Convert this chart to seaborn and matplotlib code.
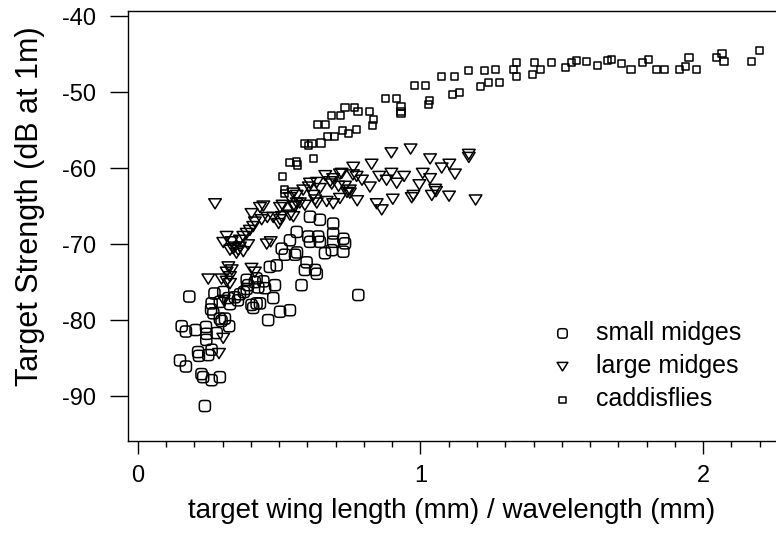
import numpy as np
import matplotlib
matplotlib.use("Agg")
import matplotlib.pyplot as plt
from matplotlib.path import Path
from matplotlib.ticker import MultipleLocator
import seaborn as sns

# small midges (circles)
small_x = [0.237, 0.149, 0.170, 0.225, 0.231, 0.261, 0.290, 0.213, 0.216, 0.249,
           0.261, 0.155, 0.170, 0.204, 0.241, 0.243, 0.242, 0.279, 0.323, 0.290,
           0.308, 0.296, 0.182, 0.271, 0.261, 0.259, 0.267, 0.290, 0.302, 0.320,
           0.343, 0.361, 0.385, 0.390, 0.414, 0.426, 0.444, 0.450, 0.402, 0.408,
           0.420, 0.432, 0.461, 0.485, 0.479, 0.503, 0.538, 0.467, 0.491, 0.385,
           0.420, 0.509, 0.520, 0.556, 0.563, 0.597, 0.591, 0.627, 0.633, 0.579,
           0.662, 0.686, 0.727, 0.609, 0.644, 0.691, 0.733, 0.780, 0.609, 0.644,
           0.691, 0.691, 0.562, 0.603, 0.638, 0.538, 0.727, 0.375, 0.354, 0.326]
small_y = [-91.3, -85.3, -86.1, -87.1, -87.5, -87.9, -87.5, -84.2, -84.7, -84.6,
           -83.9, -80.8, -81.5, -81.3, -80.9, -81.8, -82.6, -81.7, -80.8, -79.8,
           -79.8, -80.1, -76.9, -76.5, -77.8, -78.6, -79.1, -77.6, -76.3, -77.1,
           -77.0, -76.6, -75.9, -75.4, -75.0, -75.7, -74.9, -75.8, -78.0, -78.4,
           -77.8, -77.8, -80.0, -75.4, -77.1, -78.9, -78.7, -73.0, -72.8, -74.7,
           -74.5, -70.6, -71.4, -71.4, -71.1, -72.4, -73.4, -73.4, -73.9, -75.4,
           -71.2, -70.8, -71.0, -69.7, -69.7, -69.7, -69.9, -76.7, -66.4, -66.8,
           -67.3, -68.6, -68.4, -69.0, -69.0, -69.5, -69.3, -76.3, -77.4, -77.9]

# large midges (triangles)
large_x = [0.273, 0.249, 0.296, 0.326, 0.314, 0.302, 0.287, 0.320, 0.332, 0.314,
           0.402, 0.414, 0.302, 0.314, 0.332, 0.343, 0.355, 0.361, 0.373, 0.385,
           0.396, 0.408, 0.337, 0.349, 0.326, 0.361, 0.373, 0.390, 0.456, 0.470,
           0.402, 0.414, 0.438, 0.458, 0.479, 0.432, 0.444, 0.503, 0.509, 0.498,
           0.538, 0.556, 0.562, 0.591, 0.633, 0.668, 0.691, 0.512, 0.550, 0.573,
           0.538, 0.550, 0.562, 0.585, 0.621, 0.627, 0.609, 0.633, 0.644, 0.663,
           0.680, 0.686, 0.691, 0.710, 0.715, 0.715, 0.750, 0.750, 0.762, 0.774,
           0.776, 0.793, 0.821, 0.827, 0.845, 0.854, 0.863, 0.880, 0.897, 0.897,
           0.902, 0.916, 0.942, 0.965, 0.975, 0.969, 0.996, 1.008, 1.034, 1.034,
           1.040, 1.052, 1.055, 1.075, 1.102, 1.101, 1.122, 1.171, 1.171, 1.195,
           0.721, 0.733, 0.740, 0.503, 0.550, 0.304, 0.326, 0.761, 0.605]
large_y = [-64.7, -74.6, -74.6, -74.3, -74.9, -82.4, -84.4, -73.0, -73.4, -73.7,
           -73.2, -73.7, -69.8, -69.0, -69.7, -70.4, -70.8, -69.5, -69.0, -68.6,
           -68.2, -67.7, -70.6, -71.2, -70.8, -70.4, -71.0, -70.1, -70.0, -69.7,
           -66.0, -67.1, -66.8, -66.5, -66.5, -65.2, -65.0, -65.2, -66.4, -67.3,
           -66.2, -65.1, -64.6, -64.9, -64.6, -64.4, -64.7, -64.9, -65.0, -64.6,
           -63.9, -63.3, -63.6, -62.9, -63.6, -64.2, -62.0, -61.9, -62.7, -61.0,
           -61.8, -62.1, -61.4, -62.4, -60.8, -64.0, -62.9, -63.3, -59.9, -61.1,
           -64.3, -61.6, -62.5, -59.5, -64.7, -61.1, -65.5, -61.6, -58.0, -60.7,
           -64.1, -62.0, -61.1, -57.5, -63.6, -63.9, -62.2, -60.7, -58.8, -61.4,
           -63.6, -62.8, -63.1, -60.0, -59.5, -63.7, -60.8, -58.2, -58.6, -64.2,
           -60.7, -62.4, -63.2, -66.8, -66.4, -77.4, -75.2, -60.9, -62.5]

# caddisflies (squares)
caddis_x = [0.512, 0.519, 0.520, 0.535, 0.562, 0.564, 0.591, 0.605, 0.616, 0.621,
            0.637, 0.648, 0.665, 0.670, 0.685, 0.697, 0.718, 0.724, 0.733, 0.745,
            0.765, 0.774, 0.779, 0.821, 0.835, 0.830, 0.877, 0.916, 0.931, 0.931,
            0.931, 0.979, 1.018, 1.032, 1.027, 1.074, 1.121, 1.114, 1.137, 1.171,
            1.211, 1.225, 1.240, 1.265, 1.279, 1.328, 1.341, 1.341, 1.397, 1.404,
            1.425, 1.464, 1.512, 1.535, 1.553, 1.586, 1.627, 1.661, 1.675, 1.711,
            1.745, 1.786, 1.808, 1.834, 1.862, 1.916, 1.939, 1.950, 1.978, 2.046,
            2.067, 2.074, 2.170, 2.198]
caddis_y = [-61.1, -62.8, -63.3, -59.3, -59.2, -59.6, -56.8, -57.0, -56.8, -58.8,
            -54.3, -56.7, -54.3, -55.9, -53.1, -55.9, -53.1, -55.1, -52.0, -55.4,
            -52.0, -54.9, -52.6, -52.6, -53.6, -54.4, -50.8, -50.8, -51.9, -52.5,
            -52.8, -49.1, -49.1, -51.1, -51.6, -48.0, -48.0, -50.3, -50.0, -47.2,
            -49.3, -47.2, -48.7, -47.0, -48.7, -47.0, -46.1, -48.0, -47.7, -46.1,
            -47.0, -46.1, -46.8, -46.1, -45.9, -46.0, -46.5, -45.9, -45.7, -46.2,
            -47.0, -46.1, -45.7, -47.0, -47.0, -47.0, -46.7, -45.4, -47.0, -45.4,
            -44.9, -46.0, -46.0, -44.5]

species = ["small midges", "large midges", "caddisflies"]

sns.set_theme(style="ticks")
plt.rcParams["font.family"] = ["Liberation Sans", "DejaVu Sans"]
plt.rcParams.update({
    "axes.unicode_minus": False,
    "text.color": "black",
    "axes.labelcolor": "black",
    "axes.edgecolor": "black",
    "xtick.color": "black",
    "ytick.color": "black",
})

# rounded square marker for the small midges and a wide down triangle
t = np.linspace(0, 2 * np.pi, 81)
c, s = np.cos(t), np.sin(t)
rounded = Path(np.column_stack([np.sign(c) * np.abs(c) ** 0.5,
                                np.sign(s) * np.abs(s) ** 0.5]), closed=True)
tri = Path([(-1, 0.8), (1, 0.8), (0, -0.8), (-1, 0.8)], closed=True)

fig = plt.figure(figsize=(7.76, 5.34), dpi=100)
ax = fig.add_axes([128 / 776, 93 / 534, 1 - 128 / 776, 430 / 534])

groups = [(small_x, small_y, rounded, 64),
          (large_x, large_y, tri, 82),
          (caddis_x, caddis_y, "s", 26)]
for name, (xs, ys, mk, sz) in zip(species, groups):
    sns.scatterplot(x=xs, y=ys, marker=mk, s=sz, facecolor="none",
                    edgecolor="black", linewidth=1.1, label=name, ax=ax, legend=False)

ax.set_xlim(-0.035, 2.258)
ax.set_ylim(-95.9, -39.34)
ax.xaxis.set_major_locator(MultipleLocator(1))
ax.xaxis.set_minor_locator(MultipleLocator(0.1))
ax.yaxis.set_major_locator(MultipleLocator(10))
ax.spines["right"].set_visible(False)
for sp in ax.spines.values():
    sp.set_linewidth(1.0)

ax.tick_params(axis="y", length=13, width=1, pad=10, labelsize=17)
ax.tick_params(axis="x", which="major", length=9, width=1, pad=8, labelsize=17)
ax.tick_params(axis="x", which="minor", length=4.5, width=1)

ax.set_xlabel("target wing length (mm) / wavelength (mm)", fontsize=20, labelpad=8)
ax.set_ylabel("Target Strength (dB at 1m)", fontsize=22)
ax.yaxis.set_label_coords(-0.128, 0.546)

ax.legend(loc="upper left", bbox_to_anchor=(550 / 776, 1 - 321 / 534),
          bbox_transform=fig.transFigure, frameon=False, fontsize=18,
          markerscale=0.85, handlelength=1.0, handletextpad=0.85,
          labelspacing=0.37, borderpad=0, borderaxespad=0)

fig.savefig("out.png", dpi=100)
